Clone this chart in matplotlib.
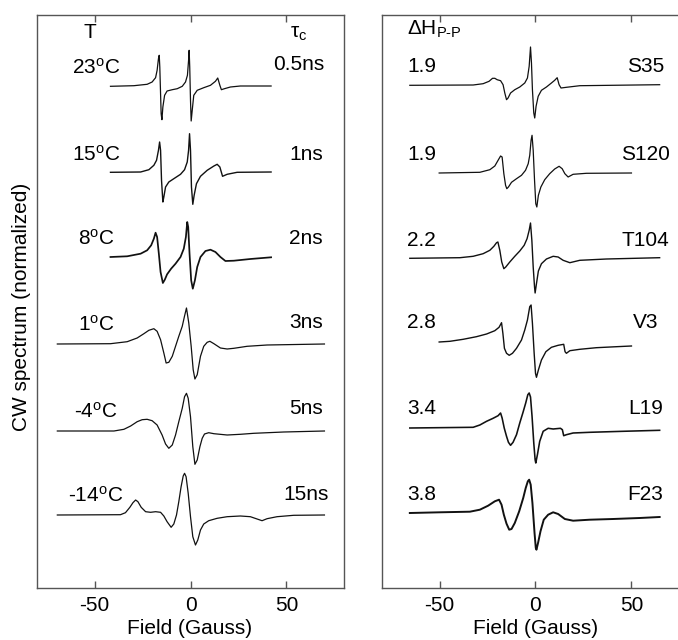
import matplotlib
matplotlib.use('Agg')
import matplotlib.pyplot as plt

plt.rcParams['font.family'] = ['Liberation Sans', 'DejaVu Sans']
plt.rcParams['mathtext.fontset'] = 'custom'
plt.rcParams['mathtext.rm'] = 'Liberation Sans'
plt.rcParams['mathtext.it'] = 'Liberation Sans'
plt.rcParams['mathtext.bf'] = 'Liberation Sans:bold'
plt.rcParams['axes.unicode_minus'] = False

# ---------------- data (field in Gauss, amplitude in normalized units) ----------------
# Left panel: temperature series
t23_field = [-41.7, -29.5, -22.6, -20.0, -18.2, -17.4, -16.7, -16.3, -16.0, -15.6, -15.3, -14.9, -14.4,
             -13.5, -12.2, -9.5, -6.9, -4.3, -2.6, -1.6, -1.0, -0.7, -0.4, 0.0, 0.35, 0.9, 1.7, 3.5,
             6.9, 10.4, 13.0, 14.2, 15.3, 16.1, 17.7, 20.8, 26.0, 42.0]
t23_amp = [-0.3, 0.3, 1.7, 4, 8.3, 15.7, 27.3, 30.7, 19, -7.7, -27.7, -33.7, -21,
           -9.3, -5, -3.7, -2.7, -0.3, 4, 10.7, 25.7, 35.7, 19, -14.3, -35, -24.3, -9.3, -4.3,
           -1.7, 0.7, 4.7, 8, 0.7, -3.7, -2.7, -1, 0, 0]

t15_field = [-41.7, -26.0, -21.7, -19.1, -17.7, -16.7, -16.1, -15.6, -15.1, -14.4, -13.9, -13.0, -11.3,
             -8.7, -5.2, -3.1, -1.7, -1.0, -0.5, 0.0, 0.5, 1.2, 1.9, 3.1, 5.2, 8.7, 12.2, 13.9, 15.3,
             16.7, 19.1, 24.3, 42.0]
t15_amp = [-0.3, 0, 2.3, 6.7, 11.7, 21.7, 30, 21.7, -8.3, -30, -25, -15, -10,
           -6.7, -2.3, 2.3, 10, 21.7, 38.3, 21.7, -15, -32.3, -23.3, -11.7, -4.3, 1.7, 6, 7.7, 5,
           -4.3, -2.3, -0.3, 0]

t8_field = [-41.7, -33.0, -26.0, -22.6, -20.5, -19.1, -18.2, -17.4, -16.5, -15.6, -14.4, -13.4, -12.2,
            -10.1, -7.8, -5.2, -3.5, -2.4, -1.7, -1.2, -0.5, 0.35, 1.2, 2.3, 3.5, 5.2, 7.8, 10.4, 13.0,
            15.6, 18.2, 22.6, 31.2, 42.0]
t8_amp = [0, 0.7, 3.3, 6.7, 11.7, 18.3, 24.3, 20, 3.3, -15, -26, -22.7, -17.3,
          -11.7, -6.7, 0, 8.3, 20, 35, 30, 3.3, -23.3, -31.7, -23.3, -10, 0, 6, 7.3, 5,
          0, -4, -3.7, -2, -0.3]

t1_field = [-69.4, -41.7, -33.0, -27.8, -24.3, -21.7, -19.1, -17.4, -15.6, -13.9, -12.7, -11.3, -9.5,
            -7.8, -6.1, -4.3, -3.1, -2.1, -0.9, 0.35, 1.4, 2.3, 3.5, 5.2, 6.9, 8.7, 10.1, 12.2, 15.6,
            19.1, 22.6, 29.5, 39.9, 69.8]
t1_amp = [0, 0.3, 2.3, 6, 10.3, 13.7, 15.3, 12.7, 4.3, -9, -19, -18.3, -12.3,
          -2.3, 7.7, 17.7, 28, 36, 21, -2.3, -25.7, -35, -30.7, -12.3, -2.3, 1.7, 2.7, 0.3, -4,
          -5, -4.3, -2.3, -1, 0]

tm4_field = [-69.4, -39.9, -34.7, -31.2, -27.8, -25.2, -22.6, -20.0, -17.4, -14.8, -13.0, -11.3, -9.5,
             -7.8, -6.1, -4.3, -3.1, -2.1, -1.2, 0.0, 1.2, 2.3, 3.5, 4.9, 6.1, 7.3, 9.5, 12.2, 19.1,
             26.0, 33.0, 48.6, 69.8]
tm4_amp = [0, 0, 1.7, 5, 9.3, 11.3, 11.7, 10.3, 6, -4, -13, -17.3, -14,
           -4, 9.3, 22.7, 34.3, 37.7, 32.7, 14.3, -15.7, -33.3, -29, -15.7, -7.3, -3, -1.7, -2.7, -4,
           -3.3, -2.3, -1, 0]

tm14_field = [-69.4, -36.5, -33.9, -31.6, -30.0, -28.6, -27.4, -25.7, -23.4, -20.8, -18.2, -15.6, -13.9,
              -12.2, -10.1, -8.7, -7.3, -6.1, -4.9, -3.8, -3.1, -2.3, -1.2, 0.0, 1.2, 2.6, 3.8, 5.2,
              6.9, 9.5, 13.9, 19.1, 26.0, 31.2, 34.7, 37.3, 39.9, 45.1, 53.8, 69.8]
tm14_amp = [0, 0.3, 2.3, 7.7, 12.3, 15, 13.3, 7.7, 3.3, 2.7, 3.3, 2.7, -1,
            -6.7, -12.3, -9, 0, 13.3, 28.3, 39, 41.7, 38.3, 21.7, -1.7, -21.7, -30, -25, -15,
            -9, -5.7, -3.3, -1.7, -1, -1.7, -4, -5.7, -3.7, -1.7, -0.3, 0]

temp_labels = ['23$^{\\mathrm{o}}$C', '15$^{\\mathrm{o}}$C', '8$^{\\mathrm{o}}$C',
               '1$^{\\mathrm{o}}$C', '-4$^{\\mathrm{o}}$C', '-14$^{\\mathrm{o}}$C']
tau_labels = ['0.5ns', '1ns', '2ns', '3ns', '5ns', '15ns']

# Right panel: mutant series
s35_field = [-65.5, -32.5, -27.3, -24.2, -22.4, -21.2, -20.0, -18.2, -16.9, -16.0, -15.1, -14.3, -13.0,
             -10.8, -8.2, -5.6, -4.2, -3.3, -2.6, -2.1, -1.6, -0.9, -0.4, 0.3, 1.4, 3.1, 5.7, 8.3,
             10.0, 11.3, 12.3, 13.3, 16.1, 23.1, 64.7]
s35_amp = [-0.3, 0, 1.3, 3.7, 6.7, 6.7, 5.3, 4.3, 0.3, -8, -14.7, -13, -8,
           -4.7, -2, 2, 7, 18.7, 38, 22, -4.7, -28, -33, -21.3, -11.3, -5.3, -2, 2,
           4.7, 7.3, 0.3, -3, -2.3, -0.7, 0.3]

s120_field = [-50.2, -29.0, -23.8, -21.2, -19.5, -18.2, -17.4, -16.5, -15.6, -14.95, -14.1, -12.5,
              -9.9, -7.3, -5.2, -3.8, -3.0, -2.3, -1.8, -1.2, -0.5, 0.15, 0.7, 1.5, 2.8, 4.8, 7.4,
              10.0, 12.3, 13.9, 15.3, 17.0, 19.6, 26.5, 50.0]
s120_amp = [0, 0.7, 3.3, 7, 12.7, 17, 16, -0.7, -12.3, -15.7, -14, -9.3,
            -5.7, -2.3, 2.7, 9.3, 17.7, 32.7, 37.7, 22.7, -7.3, -30.7, -34, -22.3, -14, -6.7, -0.7,
            4, 6.7, 4.3, -0.7, -4, -1.3, -0.3, 0]

t104_field = [-65.5, -39.4, -32.5, -27.3, -23.8, -21.7, -20.3, -19.6, -18.6, -17.6, -16.5, -15.5,
              -13.4, -10.8, -8.2, -5.9, -4.4, -3.3, -2.6, -1.9, -1.2, -0.5, -0.2, 0.5, 1.5, 3.1, 5.7,
              9.2, 11.8, 14.4, 17.9, 23.1, 37.0, 64.7]
t104_amp = [-0.3, 0.3, 1.7, 4.3, 7.7, 11.7, 15.3, 16, 7.7, -4, -10.7, -9,
            -4, 1.7, 7, 12.7, 19.3, 27.7, 35, 17.7, -9, -29, -35, -25.7, -13, -5.7, -1,
            1.7, 1, -2.3, -4.7, -2.3, -1, 0.3]

v3_field = [-50.2, -44.6, -37.7, -30.8, -25.5, -21.2, -19.0, -17.7, -17.0, -16.2, -15.1, -13.7, -12.0,
            -9.9, -7.3, -5.6, -4.2, -3.0, -2.3, -1.6, -0.7, 0.0, 0.5, 1.5, 3.1, 5.4, 8.3, 11.8,
            14.7, 15.4, 16.1, 17.9, 23.1, 31.7, 42.2, 50.0]
v3_amp = [2, 2.7, 4.7, 7.3, 10, 13.3, 16.7, 21.3, 10.7, -4.3, -9.3, -11.3, -9.3,
          -4.3, 4, 14, 24, 37.3, 39, 20.7, -9.3, -29.3, -33.3, -26, -16, -7.7, -3.3, -1.3,
          -0.3, -7.7, -9.3, -6.7, -5.3, -3.7, -2.7, -2]

l19_field = [-65.5, -32.5, -29.0, -25.5, -22.1, -19.5, -18.2, -17.4, -16.3, -15.1, -14.1, -13.0, -11.7,
             -9.9, -8.2, -6.5, -5.1, -4.0, -3.3, -2.6, -1.8, -0.9, -0.2, 0.15, 1.0, 2.2, 4.0, 6.6,
             9.2, 13.0, 14.0, 14.7, 16.1, 19.6, 28.3, 45.6, 64.7]
l19_amp = [0, 0.7, 3, 6.7, 9.7, 12.3, 15, 10, 0, -8.3, -14.3, -17.3, -14.3,
           -6.7, 5, 15.7, 25, 33.3, 35, 31, 11.7, -15, -31.7, -35, -26.7, -13.3, -3.3, -0.3,
           -1, -0.3, -1.7, -7.7, -6.7, -5, -4.3, -3.3, -2.3]

f23_field = [-65.5, -49.9, -34.2, -29.0, -24.7, -21.2, -19.0, -17.7, -16.5, -15.1, -13.7, -12.5, -10.8,
             -8.5, -6.4, -5.1, -4.0, -3.3, -2.5, -1.6, -0.5, 0.15, 0.5, 1.4, 2.6, 4.3, 6.6, 9.2,
             11.8, 15.3, 19.6, 28.3, 40.4, 54.3, 64.7]
f23_amp = [0, 0.7, 1.3, 3.3, 7.3, 11.7, 13.3, 8.3, -1.7, -10.7, -16.7, -16, -10,
           1.7, 15, 25, 31.7, 33.3, 28.3, 10, -20, -35, -36.7, -29.3, -18.3, -6.7, -1.7, 0.7,
           -1, -6, -7.7, -6.7, -6, -5, -4]

dh_labels = ['1.9', '1.9', '2.2', '2.8', '3.4', '3.8']
mutant_labels = ['S35', 'S120', 'T104', 'V3', 'L19', 'F23']

# ---------------- layout (positions / styles only) ----------------
left_fields = [t23_field, t15_field, t8_field, t1_field, tm4_field, tm14_field]
left_amps = [t23_amp, t15_amp, t8_amp, t1_amp, tm4_amp, tm14_amp]
right_fields = [s35_field, s120_field, t104_field, v3_field, l19_field, f23_field]
right_amps = [s35_amp, s120_amp, t104_amp, v3_amp, l19_amp, f23_amp]

left_offsets = [502, 416, 331, 244, 157, 73]
right_offsets = [503, 415, 330, 244, 160, 75]
left_lw = [0.9, 1.0, 1.25, 0.9, 0.9, 0.9]
right_lw = [0.9, 0.9, 1.0, 1.0, 1.15, 1.4]
left_label_y = [520, 433, 349, 263, 176, 92]
tau_label_y = [523, 433, 350, 265, 179, 93]
tau_label_x = [56.5, 60.2, 60.2, 60.2, 60.2, 60.2]
right_label_y = [521, 433, 348, 265, 179, 93]

W, H = 678, 640
fig = plt.figure(figsize=(W / 100, H / 100), dpi=100)
axL = fig.add_axes([37 / W, 52 / H, 307 / W, 573 / H])
axR = fig.add_axes([382 / W, 52 / H, 307 / W, 573 / H])

line_color = '#111111'
spine_color = '#555555'
FS = 15

for ax in (axL, axR):
    ax.set_xlim(-80, 80)
    ax.set_ylim(0, 573)
    ax.set_yticks([])
    ax.set_xticks([-50, 0, 50])
    ax.tick_params(axis='x', direction='in', top=True, bottom=True, length=5, width=1,
                   color=spine_color, labelsize=FS, pad=6)
    for sp in ax.spines.values():
        sp.set_color(spine_color)
        sp.set_linewidth(1.0)

for f, a, off, lw in zip(left_fields, left_amps, left_offsets, left_lw):
    axL.plot(f, [off + v for v in a], color=line_color, lw=lw)
for f, a, off, lw in zip(right_fields, right_amps, right_offsets, right_lw):
    axR.plot(f, [off + v for v in a], color=line_color, lw=lw)

# left panel text
axL.text(-52.6, 555, 'T', ha='center', va='center', fontsize=FS)
axL.text(52.1, 550, 'τ$_{\\mathrm{c}}$', ha='left', va='baseline', fontsize=FS)
for lab, y in zip(temp_labels, left_label_y):
    axL.text(-49.2, y, lab, ha='center', va='center', fontsize=FS)
for lab, x, y in zip(tau_labels, tau_label_x, tau_label_y):
    axL.text(x, y, lab, ha='center', va='center', fontsize=FS)

# right panel text
axR.text(-67, 553, 'ΔH$_{\\mathrm{P‐P}}$', ha='left', va='baseline', fontsize=FS)
for lab, y in zip(dh_labels, right_label_y):
    axR.text(-67, y, lab, ha='left', va='center', fontsize=FS)
for lab, y in zip(mutant_labels, right_label_y):
    axR.text(57.4, y, lab, ha='center', va='center', fontsize=FS)

fig.text(190 / W, 1 - 629 / H, 'Field (Gauss)', ha='center', va='center', fontsize=FS)
fig.text(535.7 / W, 1 - 629 / H, 'Field (Gauss)', ha='center', va='center', fontsize=FS)
fig.text(22 / W, 1 - 307 / H, 'CW spectrum (normalized)', rotation=90, ha='center', va='center',
         fontsize=15)

fig.savefig('out.png', dpi=100)
